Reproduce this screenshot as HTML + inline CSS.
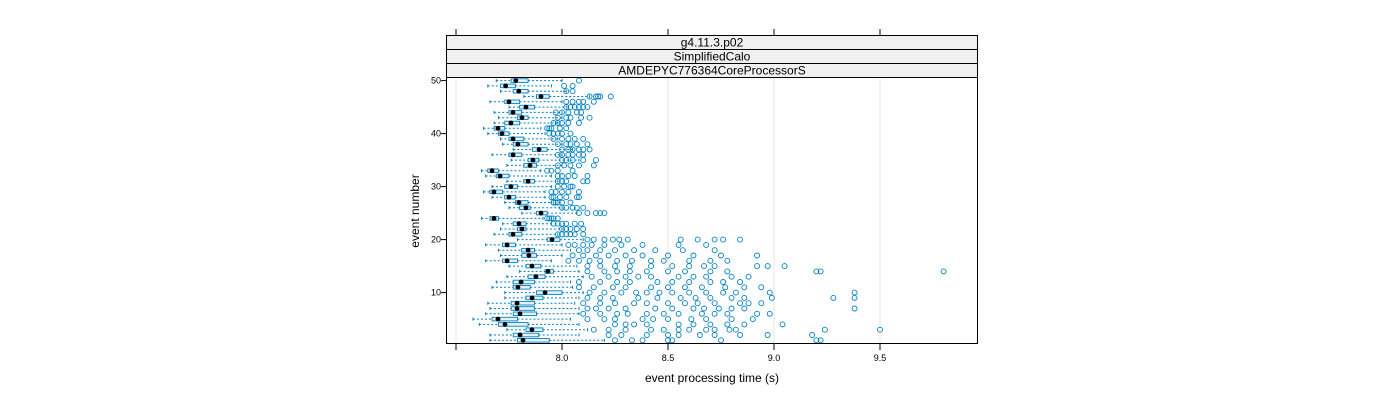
<!DOCTYPE html>
<html><head><meta charset="utf-8"><style>
body{margin:0;background:#fff;}
svg{display:block;font-family:"Liberation Sans",sans-serif;}
</style></head><body>
<svg id="chart" width="1400" height="400" xmlns="http://www.w3.org/2000/svg">
<g id="strips">
<rect x="446.5" y="35.5" width="531" height="14" fill="#f0f0f0" stroke="#000"/>
<text x="712" y="46.5" font-size="12" text-anchor="middle">g4.11.3.p02</text>
<rect x="446.5" y="49.5" width="531" height="14" fill="#f0f0f0" stroke="#000"/>
<text x="712" y="60.5" font-size="12" text-anchor="middle">SimplifiedCalo</text>
<rect x="446.5" y="63.5" width="531" height="14" fill="#f0f0f0" stroke="#000"/>
<text x="712" y="74.5" font-size="12" text-anchor="middle">AMDEPYC776364CoreProcessorS</text>
</g>
<g id="grid"></g>
<g id="marks"></g>
<rect x="446.5" y="77.5" width="531" height="266" fill="none" stroke="#000"/>
<g id="axes"></g>
<text x="712" y="382" font-size="12" text-anchor="middle">event processing time (s)</text>
<text transform="translate(419,211) rotate(-90)" font-size="12" text-anchor="middle">event number</text>
</svg>
<script>
const events=[1,2,3,4,5,6,7,8,9,10,11,12,13,14,15,16,17,18,19,20,21,22,23,24,25,26,27,28,29,30,31,32,33,34,35,36,37,38,39,40,41,42,43,44,45,46,47,48,49,50];
const medians=[7.816,7.802,7.858,7.731,7.698,7.802,7.788,7.788,7.859,7.920,7.792,7.807,7.877,7.934,7.858,7.741,7.844,7.840,7.741,7.953,7.769,7.811,7.797,7.679,7.901,7.830,7.797,7.750,7.679,7.759,7.840,7.708,7.670,7.849,7.863,7.769,7.892,7.792,7.769,7.717,7.698,7.759,7.811,7.769,7.830,7.750,7.901,7.796,7.734,7.782];
const q1s=[7.79,7.77,7.83,7.70,7.67,7.77,7.76,7.76,7.83,7.88,7.77,7.77,7.84,7.92,7.83,7.72,7.81,7.81,7.72,7.93,7.75,7.79,7.77,7.66,7.88,7.80,7.78,7.73,7.66,7.73,7.82,7.69,7.65,7.82,7.84,7.75,7.86,7.77,7.75,7.70,7.68,7.73,7.79,7.75,7.80,7.73,7.88,7.77,7.71,7.76];
const q3s=[7.94,7.89,7.91,7.84,7.79,7.88,7.87,7.87,7.91,8.00,7.85,7.87,7.92,7.96,7.90,7.79,7.88,7.87,7.78,7.99,7.81,7.83,7.83,7.70,7.93,7.85,7.84,7.78,7.72,7.79,7.87,7.75,7.70,7.88,7.89,7.81,7.93,7.84,7.82,7.75,7.73,7.80,7.84,7.81,7.87,7.80,7.94,7.84,7.78,7.84];
const whLo=[7.66,7.66,7.74,7.61,7.58,7.64,7.66,7.65,7.73,7.73,7.67,7.69,7.74,7.80,7.75,7.64,7.71,7.70,7.64,7.79,7.68,7.71,7.72,7.62,7.81,7.75,7.73,7.67,7.63,7.67,7.74,7.64,7.62,7.74,7.76,7.67,7.77,7.72,7.71,7.65,7.63,7.68,7.70,7.68,7.75,7.66,7.82,7.71,7.65,7.69];
const whHi=[8.20,8.08,8.12,8.08,8.04,8.08,8.08,8.06,8.08,8.10,8.05,8.04,8.10,8.08,8.07,7.95,8.00,8.04,8.00,8.10,7.98,8.00,7.95,7.91,8.07,8.00,7.95,7.92,7.92,7.95,7.98,7.95,7.90,8.00,8.08,8.00,8.05,8.00,7.98,7.92,7.90,7.98,8.00,8.00,8.02,8.00,8.13,8.02,7.95,8.00];
const outliers=[
[8.25,8.33,8.38,8.50,8.52,8.75,9.20,9.22],
[8.22,8.28,8.40,8.50,8.55,8.65,8.72,8.84,8.97,9.18],
[8.15,8.22,8.30,8.42,8.48,8.55,8.60,8.68,8.72,8.79,8.82,9.24,9.50],
[8.25,8.30,8.34,8.40,8.55,8.62,8.70,8.78,8.86,9.04],
[8.12,8.20,8.25,8.38,8.43,8.50,8.61,8.68,8.80,8.90],
[8.10,8.18,8.26,8.31,8.40,8.48,8.55,8.66,8.72,8.78,8.92,8.98],
[8.12,8.16,8.22,8.30,8.44,8.52,8.62,8.67,8.74,8.80,8.86,9.38],
[8.10,8.18,8.25,8.34,8.40,8.50,8.58,8.64,8.72,8.84,8.88,8.94],
[8.12,8.18,8.24,8.36,8.45,8.56,8.63,8.70,8.80,8.86,8.99,9.28,9.38],
[8.13,8.20,8.28,8.35,8.40,8.46,8.52,8.60,8.68,8.76,8.82,8.98,9.38],
[8.08,8.15,8.24,8.30,8.42,8.50,8.58,8.66,8.77,8.86,8.94],
[8.08,8.18,8.26,8.32,8.45,8.52,8.60,8.70,8.76,8.84],
[8.14,8.22,8.30,8.36,8.42,8.55,8.62,8.68,8.80,8.88],
[8.12,8.20,8.26,8.32,8.40,8.50,8.58,8.70,8.78,9.20,9.22,9.80],
[8.12,8.18,8.25,8.32,8.42,8.52,8.60,8.67,8.72,8.92,8.97,9.05],
[8.03,8.08,8.13,8.18,8.26,8.33,8.42,8.48,8.60,8.70,8.78],
[8.05,8.10,8.16,8.22,8.30,8.38,8.50,8.62,8.75,8.92],
[8.08,8.12,8.18,8.25,8.34,8.44,8.57,8.72],
[8.03,8.06,8.10,8.14,8.20,8.28,8.38,8.55,8.68],
[8.12,8.15,8.20,8.24,8.27,8.31,8.56,8.64,8.72,8.76,8.84],
[7.98,8.00,8.02,8.04,8.06,8.10],
[8.00,8.02,8.04,8.07,8.10],
[7.96,7.98,8.00,8.02,8.06,8.09],
[7.93,7.94,7.95,7.96,7.98],
[8.08,8.12,8.16,8.18,8.20],
[8.00,8.02,8.05,8.07,8.10],
[7.96,7.97,7.98,8.00,8.04],
[7.95,7.96,7.99,8.02,8.07,8.08],
[7.95,7.97,8.00,8.03,8.08],
[7.98,8.01,8.04,8.05],
[7.98,8.00,8.02,8.10,8.12],
[7.98,8.00,8.03,8.06,8.12],
[7.93,7.95,7.98,8.05],
[7.98,8.01,8.04,8.08,8.15],
[8.00,8.02,8.05,8.10,8.16],
[7.98,8.00,8.03,8.05,8.08,8.10],
[8.00,8.03,8.05,8.08,8.10,8.13],
[7.98,8.02,8.04,8.07,8.12],
[7.96,8.00,8.03,8.06,8.10],
[7.94,7.96,7.98,8.00,8.04],
[7.93,7.94,7.95,7.99,8.02],
[7.96,7.98,8.00,8.03,8.08],
[7.98,8.02,8.04,8.09,8.13],
[7.97,8.00,8.03,8.07,8.09],
[8.02,8.04,8.06,8.08,8.10,8.12],
[8.02,8.05,8.08,8.10,8.15],
[8.13,8.16,8.17,8.18,8.23],
[8.02,8.05],
[8.01,8.05],
[8.08]];
const xTicks=[8.0,8.5,9.0,9.5];
const xTickLabels=["8.0","8.5","9.0","9.5"];
const yTicks=[10,20,30,40,50];
const yTickLabels=["10","20","30","40","50"];

const X=v=>456+(v-7.5)*212;
const Y=e=>340.3-(e-1)*5.3;
const NS="http://www.w3.org/2000/svg";
function mk(tag,attrs,parent){const el=document.createElementNS(NS,tag);for(const k in attrs)el.setAttribute(k,attrs[k]);parent.appendChild(el);return el;}
const grid=document.getElementById('grid'),marks=document.getElementById('marks'),axes=document.getElementById('axes');
[7.5].concat(xTicks).forEach(v=>{
  const l=mk('line',{x1:X(v),x2:X(v),y1:78,y2:343,stroke:'#e6e6e6'},grid);
  
  
});
[7.5].concat(xTicks).forEach(v=>{
  const t1=mk('line',{x1:X(v),x2:X(v),y1:29,y2:35,stroke:'#000'},axes);
  
  
  const t2=mk('line',{x1:X(v),x2:X(v),y1:344,y2:350,stroke:'#000'},axes);
  
  
});
xTicks.forEach((v,i)=>{
  const t=mk('text',{x:X(v),y:361,'font-size':9,'text-anchor':'middle'},axes);t.textContent=xTickLabels[i];
  
  
});
yTicks.forEach((v,i)=>{
  const l=mk('line',{x1:441,x2:446,y1:Y(v),y2:Y(v),stroke:'#000'},axes);
  
  
  const t=mk('text',{x:441,y:Y(v)+3,'font-size':9,'text-anchor':'end'},axes);t.textContent=yTickLabels[i];
  
  
});
const C='#0080c0';
events.forEach((e,i)=>{
  const y=Y(e);
  const g=mk('g',{},marks);
  
  
  mk('line',{x1:X(whLo[i]),x2:X(q1s[i]),y1:y,y2:y,stroke:C,'stroke-dasharray':'2,2'},g);
  mk('line',{x1:X(q3s[i]),x2:X(whHi[i]),y1:y,y2:y,stroke:C,'stroke-dasharray':'2,2'},g);
  mk('line',{x1:X(whLo[i]),x2:X(whLo[i]),y1:y-1.5,y2:y+1.5,stroke:C},g);
  mk('line',{x1:X(whHi[i]),x2:X(whHi[i]),y1:y-1.5,y2:y+1.5,stroke:C},g);
  mk('rect',{x:X(q1s[i]),y:y-1.8,width:X(q3s[i])-X(q1s[i]),height:3.6,fill:'#e6f2fa',stroke:C,'stroke-width':0.9},g);
  mk('circle',{cx:X(medians[i]),cy:y,r:2.4,fill:'#000'},g);
  outliers[i].forEach(v=>{
    const c=mk('circle',{cx:X(v),cy:y,r:2.5,fill:'none',stroke:C,'stroke-width':0.9},g);
    
    
  });
});
</script>
</body></html>
